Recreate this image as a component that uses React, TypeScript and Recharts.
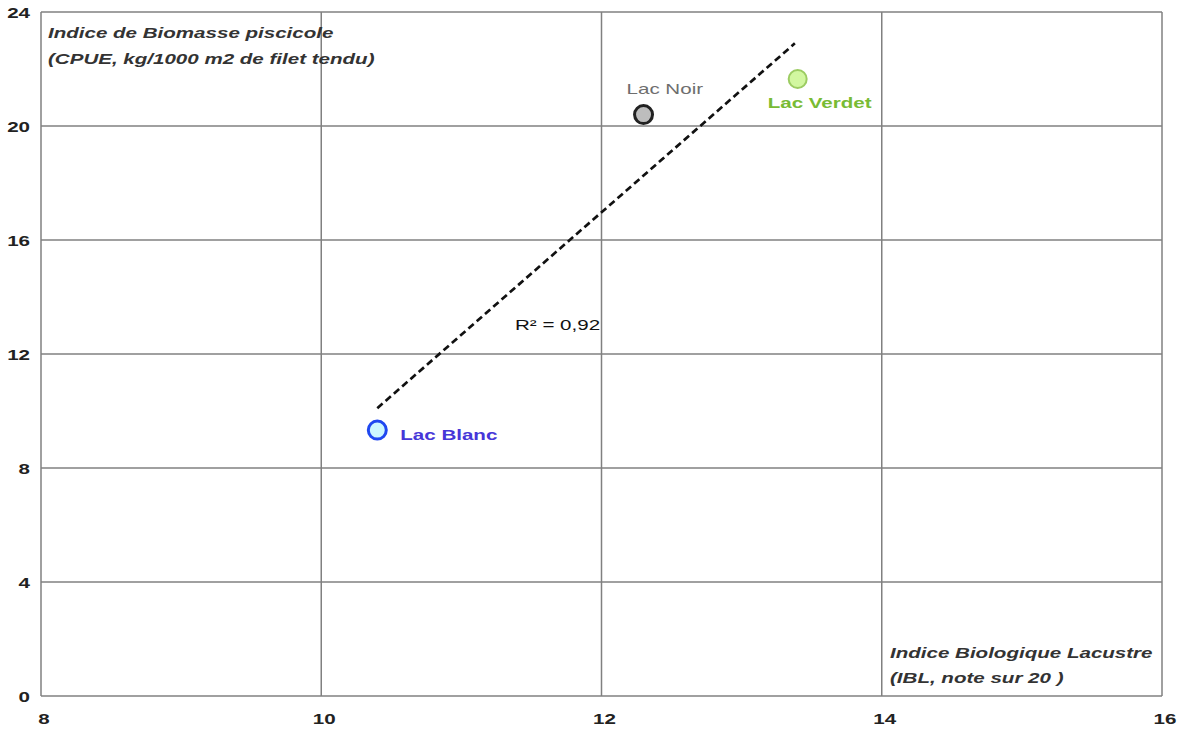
import React from 'react'
import { ScatterChart, Scatter, XAxis, YAxis, CartesianGrid, Customized } from 'recharts'

const lakes = ['Lac Blanc', 'Lac Noir', 'Lac Verdet']
const ibl = [10.4, 12.3, 13.4]
const biomass = [9.33, 20.4, 21.65]

const trendX = [10.4, 13.38]
const trendY = [10.1, 22.9]

const xTicks = [8, 10, 12, 14, 16]
const yTicks = [0, 4, 8, 12, 16, 20, 24]

const r2Label = 'R² = 0,92'
const yTitle = ['Indice de Biomasse piscicole', '(CPUE, kg/1000 m2 de filet tendu)']
const xTitle = ['Indice Biologique Lacustre', '(IBL, note sur 20 )']

const points = lakes.map((name, i) => ({ name, x: ibl[i], y: biomass[i] }))
const trend = trendX.map((x, i) => ({ x, y: trendY[i] }))

const FONT = '"Liberation Sans", Arial, sans-serif'
const SX = 1.37

const lakeStyle: Record<string, { fill: string; stroke: string; sw: number; text: string; bold: boolean; dx: number; dy: number }> = {
  'Lac Blanc': { fill: '#ccf7ff', stroke: '#1f48f0', sw: 3, text: '#4636d8', bold: true, dx: 23, dy: 10 },
  'Lac Noir': { fill: '#bdbdbd', stroke: '#222', sw: 3, text: '#6e6e6e', bold: false, dx: -17, dy: -21 },
  'Lac Verdet': { fill: '#d2f7a0', stroke: '#9ccc62', sw: 2, text: '#78bb34', bold: true, dx: -30, dy: 29 },
}

function SText({ x, y, children, anchor = 'start', size = 15, weight = 'normal', italic = false, color = '#222' }: any) {
  return (
    <text transform={`translate(${x},${y}) scale(${SX},1)`} textAnchor={anchor} fontFamily={FONT}
      fontSize={size} fontWeight={weight} fontStyle={italic ? 'italic' : 'normal'} fill={color}>
      {children}
    </text>
  )
}

function LakeDot(props: any) {
  const { cx, cy, payload } = props
  const s = lakeStyle[payload.name]
  return (
    <g>
      <circle cx={cx} cy={cy} r={9} fill={s.fill} stroke={s.stroke} strokeWidth={s.sw} />
      <SText x={cx + s.dx} y={cy + s.dy} color={s.text} weight={s.bold ? 'bold' : 'normal'}>{payload.name}</SText>
    </g>
  )
}

function Annotations() {
  return (
    <g>
      <SText x={48} y={38} italic weight="bold" color="#333">{yTitle[0]}</SText>
      <SText x={48} y={64} italic weight="bold" color="#333">{yTitle[1]}</SText>
      <SText x={890} y={658} italic weight="bold" color="#333">{xTitle[0]}</SText>
      <SText x={890} y={683} italic weight="bold" color="#333">{xTitle[1]}</SText>
      <SText x={515} y={330} color="#111">{r2Label}</SText>
    </g>
  )
}

function XTick({ x, payload }: any) {
  return <SText x={x + 3} y={724} anchor="middle" weight="bold" color="#222">{payload.value}</SText>
}

function YTick({ y, payload }: any) {
  return <SText x={30} y={y + 6} anchor="end" weight="bold" color="#222">{payload.value}</SText>
}

export default function App() {
  return (
    <div style={{ position: 'absolute', left: 0, top: 0, background: '#fff' }}>
      <ScatterChart width={1182} height={735} margin={{ top: 12, right: 20, left: 0, bottom: 0 }}>
        <CartesianGrid stroke="#808080" strokeWidth={1.5} />
        <XAxis type="number" dataKey="x" domain={[8, 16]} ticks={xTicks} height={39}
          axisLine={false} tickLine={false} tick={<XTick />} interval={0} />
        <YAxis type="number" dataKey="y" domain={[0, 24]} ticks={yTicks} width={41}
          axisLine={false} tickLine={false} tick={<YTick />} interval={0} />
        <Scatter data={trend} isAnimationActive={false} shape={() => <g />}
          line={{ stroke: '#111', strokeWidth: 2.7, strokeDasharray: '7 4' }} />
        <Scatter data={points} isAnimationActive={false} shape={<LakeDot />} />
        <Customized component={Annotations} />
      </ScatterChart>
    </div>
  )
}
